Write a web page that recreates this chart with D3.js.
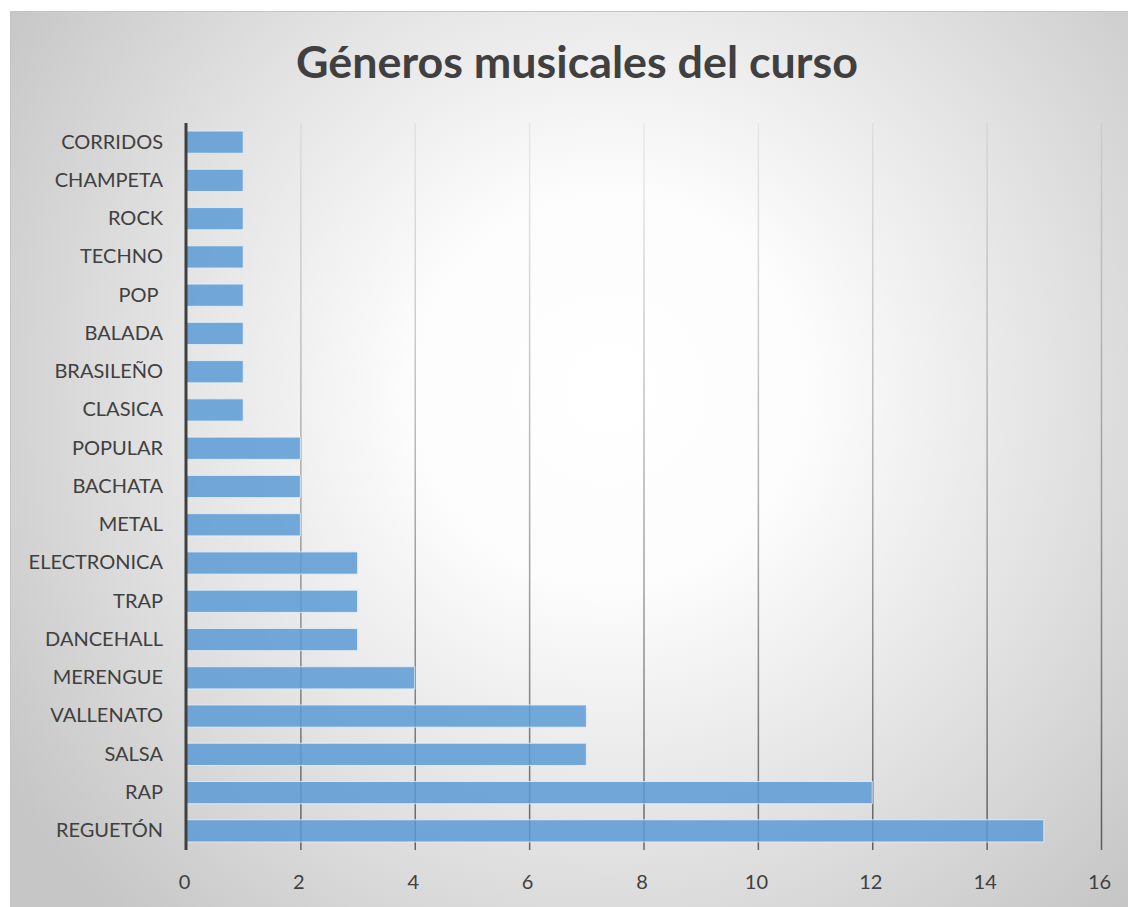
<!DOCTYPE html>
<html>
<head>
<meta charset="utf-8">
<script src="https://cdn.jsdelivr.net/npm/d3@7"></script>
<style>
  html, body { margin: 0; padding: 0; background: #ffffff; }
  svg { display: block; }
</style>
</head>
<body>
<script>
const title = "Géneros musicales del curso";
const categories = ["CORRIDOS", "CHAMPETA", "ROCK", "TECHNO", "POP ", "BALADA", "BRASILEÑO", "CLASICA",
  "POPULAR", "BACHATA", "METAL", "ELECTRONICA", "TRAP", "DANCEHALL", "MERENGUE", "VALLENATO",
  "SALSA", "RAP", "REGUETÓN"];
const values = [1, 1, 1, 1, 1, 1, 1, 1, 2, 2, 2, 3, 3, 3, 4, 7, 7, 12, 15];
const xTicks = [0, 2, 4, 6, 8, 10, 12, 14, 16];

const W = 1128, H = 907;
const font = "Lato, 'Open Sans', sans-serif";

const svg = d3.select("body").append("svg").attr("width", W).attr("height", H);
const defs = svg.append("defs");

const bg = defs.append("radialGradient").attr("id", "bg")
  .attr("gradientUnits", "userSpaceOnUse")
  .attr("cx", 610).attr("cy", 390).attr("r", 720);
bg.append("stop").attr("offset", "0%").attr("stop-color", "#ffffff");
bg.append("stop").attr("offset", "28%").attr("stop-color", "#fcfcfc");
bg.append("stop").attr("offset", "62%").attr("stop-color", "#e3e3e3");
bg.append("stop").attr("offset", "100%").attr("stop-color", "#c6c6c6");

const plotTop = 123, plotBottom = 850;
const gg = defs.append("linearGradient").attr("id", "grid")
  .attr("gradientUnits", "userSpaceOnUse")
  .attr("x1", 0).attr("y1", plotTop).attr("x2", 0).attr("y2", plotBottom);
gg.append("stop").attr("offset", "0%").attr("stop-color", "#000").attr("stop-opacity", 0.05);
gg.append("stop").attr("offset", "100%").attr("stop-color", "#000").attr("stop-opacity", 0.55);

svg.append("rect").attr("x", 10.5).attr("y", 11.5).attr("width", W).attr("height", H)
  .attr("fill", "url(#bg)").attr("stroke", "#c4c4c4").attr("stroke-width", 1);

const x = d3.scaleLinear().domain([0, 16]).range([186, 1101]);
const y = d3.scaleBand().domain(categories).range([plotTop, plotBottom]).paddingInner(0.42).paddingOuter(0.21);

// title
svg.append("text").attr("x", 577).attr("y", 78).attr("text-anchor", "middle")
  .attr("font-family", font).attr("font-weight", "bold").attr("font-size", 44.8)
  .attr("fill", "#404040").text(title);

// gridlines
svg.append("g").selectAll("line").data(xTicks.filter(d => d > 0)).join("line")
  .attr("x1", d => x(d) + 0.5).attr("x2", d => x(d) + 0.5)
  .attr("y1", plotTop).attr("y2", plotBottom)
  .attr("stroke", "url(#grid)").attr("stroke-width", 1.5);

// bars
svg.append("g").selectAll("rect").data(categories).join("rect")
  .attr("x", x(0))
  .attr("y", d => y(d))
  .attr("width", (d, i) => x(values[i]) - x(0))
  .attr("height", y.bandwidth())
  .attr("fill", "#5b9bd5").attr("fill-opacity", 0.85)
  .attr("stroke", "#e8f0f8").attr("stroke-opacity", 0.8).attr("stroke-width", 1);

// y axis line
svg.append("line").attr("x1", x(0)).attr("x2", x(0)).attr("y1", plotTop).attr("y2", plotBottom)
  .attr("stroke", "#404040").attr("stroke-width", 3);

// category labels
const yAxis = d3.axisLeft(y).tickSize(0).tickPadding(0);
const ya = svg.append("g").attr("transform", `translate(163,0)`).call(yAxis);
ya.select(".domain").remove();
ya.selectAll("text").attr("font-family", font).attr("font-size", 20).attr("fill", "#404040")
  .style("white-space", "pre");

// x tick labels
const xAxis = d3.axisBottom(x).tickValues(xTicks).tickSize(0).tickPadding(0).tickFormat(d3.format("d"));
const xa = svg.append("g").attr("transform", `translate(-2,${plotBottom + 25})`).call(xAxis);
xa.select(".domain").remove();
xa.selectAll("text").attr("font-family", font).attr("font-size", 20).attr("fill", "#404040")
  .attr("dy", "0.71em");
</script>
</body>
</html>
